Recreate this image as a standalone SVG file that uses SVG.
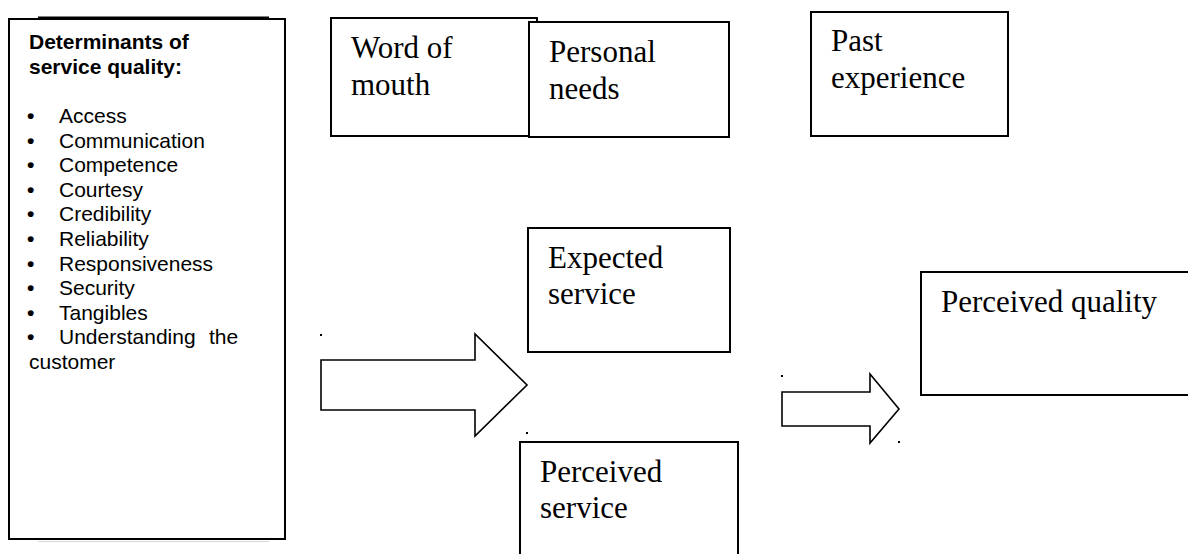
<svg xmlns="http://www.w3.org/2000/svg" width="1188" height="554" viewBox="0 0 1188 554">
  <style>
    .box { fill: #ffffff; stroke: #000000; stroke-width: 2; }
    .arrow { fill: #ffffff; stroke: #000000; stroke-width: 1.6; stroke-linejoin: miter; }
    .serif { font-family: "Liberation Serif", "Times New Roman", serif; font-size: 31px; fill: #000000; }
    .sans { font-family: "Liberation Sans", Arial, sans-serif; font-size: 21px; fill: #000000; }
    .bold { font-weight: bold; }
    .bullet { font-weight: bold; }
    .dot { fill: #000000; }
  </style>
  <rect width="1188" height="554" fill="#ffffff"/>

  <!-- Determinants list box -->
  <g id="determinants">
    <line x1="38" y1="17.5" x2="269" y2="17.5" stroke="#000" stroke-width="2"/>
    <line x1="38" y1="541.5" x2="269" y2="541.5" stroke="#d8d8d8" stroke-width="1"/>
    <rect class="box" x="9" y="19" width="276" height="520"/>
    <text class="sans bold" x="29" y="49">Determinants of</text>
    <text class="sans bold" x="29" y="73.5">service quality:</text>
    <g class="sans">
      <text class="bullet" x="27" y="123">•</text><text x="59" y="123">Access</text>
      <text class="bullet" x="27" y="147.6">•</text><text x="59" y="147.6">Communication</text>
      <text class="bullet" x="27" y="172.2">•</text><text x="59" y="172.2">Competence</text>
      <text class="bullet" x="27" y="196.8">•</text><text x="59" y="196.8">Courtesy</text>
      <text class="bullet" x="27" y="221.4">•</text><text x="59" y="221.4">Credibility</text>
      <text class="bullet" x="27" y="246">•</text><text x="59" y="246">Reliability</text>
      <text class="bullet" x="27" y="270.6">•</text><text x="59" y="270.6">Responsiveness</text>
      <text class="bullet" x="27" y="295.2">•</text><text x="59" y="295.2">Security</text>
      <text class="bullet" x="27" y="319.8">•</text><text x="59" y="319.8">Tangibles</text>
      <text class="bullet" x="27" y="344.4">•</text><text x="59" y="344.4">Understanding</text><text x="209" y="344.4">the</text>
      <text x="29" y="369">customer</text>
    </g>
  </g>

  <g id="word-of-mouth">
    <rect class="box" x="331" y="18" width="206" height="118"/>
    <text class="serif" x="351" y="58">Word of</text>
    <text class="serif" x="351" y="94.5">mouth</text>
  </g>

  <g id="personal-needs">
    <rect class="box" x="529" y="22" width="200" height="115"/>
    <text class="serif" x="549" y="62">Personal</text>
    <text class="serif" x="549" y="98.5">needs</text>
  </g>

  <g id="past-experience">
    <rect class="box" x="811" y="12" width="197" height="124"/>
    <text class="serif" x="831" y="51">Past</text>
    <text class="serif" x="831" y="87.5">experience</text>
  </g>

  <g id="expected-service">
    <rect class="box" x="528" y="228" width="202" height="124"/>
    <text class="serif" x="548" y="268">Expected</text>
    <text class="serif" x="548" y="304">service</text>
  </g>

  <g id="perceived-service">
    <rect class="box" x="520" y="442" width="218" height="130"/>
    <text class="serif" x="540" y="482">Perceived</text>
    <text class="serif" x="540" y="518">service</text>
  </g>

  <g id="perceived-quality">
    <rect class="box" x="921" y="272" width="290" height="123"/>
    <text class="serif" x="941" y="312">Perceived quality</text>
  </g>

  <!-- Block arrows -->
  <g id="connectors">
    <polygon class="arrow" points="321,360 475,360 475,334 527,385 475,436 475,410 321,410"/>
    <rect class="dot" x="320" y="334" width="2" height="2"/>
    <rect class="dot" x="526" y="432" width="2" height="2"/>

    <polygon class="arrow" points="782,392 870,392 870,374 899,409 870,443 870,426 782,426"/>
    <rect class="dot" x="781" y="375" width="2" height="2"/>
    <rect class="dot" x="898" y="441" width="2" height="2"/>
  </g>
</svg>
